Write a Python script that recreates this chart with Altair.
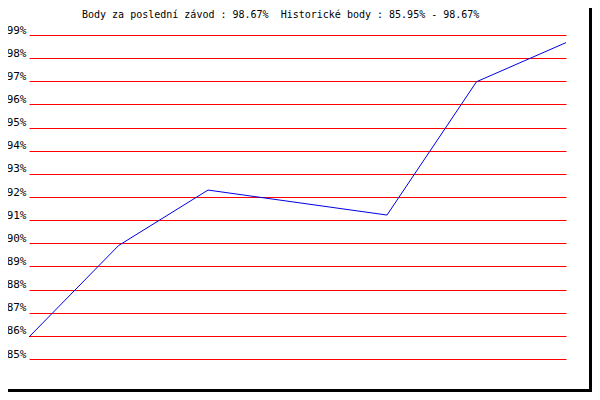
import altair as alt
import pandas as pd

# data
races = [0, 1, 2, 4, 5, 6]
points = [85.95, 89.9, 92.3, 91.22, 96.98, 98.67]
tick_values = list(range(85, 100))
title_text = "Body za poslední závod : 98.67%\u00a0 Historické body : 85.95% - 98.67%"

df = pd.DataFrame({"race": races, "points": points})
one = pd.DataFrame({"k": [0]})

W, H = 537, 324

line = alt.Chart(df).mark_line(color="#0000e6", strokeWidth=1).encode(
    x=alt.X("race:Q", scale=alt.Scale(domain=[0, 6], nice=False, zero=False), axis=None),
    y=alt.Y(
        "points:Q",
        scale=alt.Scale(domain=[85, 99], nice=False, zero=False),
        axis=alt.Axis(
            values=tick_values, grid=True, gridColor="#ff0000", gridWidth=1, gridOpacity=1,
            domain=False, ticks=False, tickSize=0, labelExpr="datum.value + '%'",
            labelFont="DejaVu Sans Mono", labelFontSize=11, labelColor="#000000",
            labelPadding=3, labelBaseline="alphabetic", labelOffset=-2, title=None,
        ),
    ),
)

title = alt.Chart(one).mark_text(
    text=title_text, font="DejaVu Sans Mono", fontSize=10, color="#000000",
    align="left", baseline="alphabetic",
).encode(x=alt.value(53), y=alt.value(-17.5))

def rect(color, x1, x2, y1, y2):
    return alt.Chart(one).mark_rect(color=color, opacity=1).encode(
        x=alt.value(x1), x2=alt.value(x2), y=alt.value(y1), y2=alt.value(y2)
    )

# frame (plot origin is at page (29, 35)); page content must stay within 592x392
border_r = rect("#000000", 560, 563, -30, 357)
border_b = rect("#000000", -30, 563, 354, 357)

chart = alt.layer(border_r, border_b, line, title).properties(
    width=W, height=H,
    padding={"left": 21, "top": 27, "right": 26, "bottom": 33},
    autosize=alt.AutoSizeParams(type="none"),
    background="#ffffff",
).configure_view(stroke=None)

chart.save("out.html", embed_options={"renderer": "svg", "actions": False})
